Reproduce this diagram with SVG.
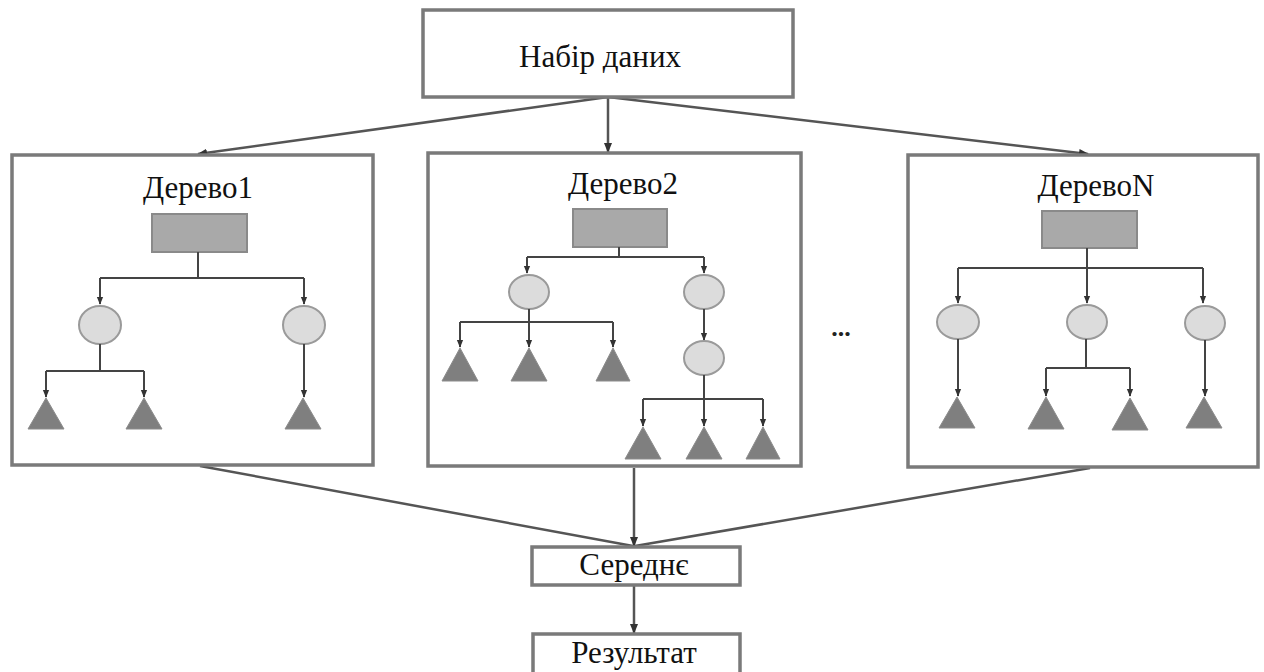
<svg xmlns="http://www.w3.org/2000/svg" width="1264" height="672" viewBox="0 0 1264 672">
  <style>
    .box { fill: #ffffff; stroke: #7a7a7a; stroke-width: 3.5; }
    .lbl { font-family: "Liberation Serif", "Times New Roman", serif; font-size: 31px; fill: #111; text-anchor: middle; }
    .root { fill: #a9a9a9; stroke: #8a8a8a; stroke-width: 2; }
    .inner { fill: #dcdcdc; stroke: #9a9a9a; stroke-width: 2; }
    .leaf { fill: #7f7f7f; stroke: #8c8c8c; stroke-width: 1; }
    .edge { fill: none; stroke: #555; stroke-width: 2.5; }
    .tedge { fill: none; stroke: #444; stroke-width: 2; }
  </style>
  <defs>
    <marker id="arr" viewBox="0 0 10 10" refX="9" refY="5" markerWidth="4" markerHeight="4" orient="auto">
      <path d="M0,1 L10,5 L0,9 z" fill="#333"/>
    </marker>
  </defs>

  <rect width="1264" height="672" fill="#ffffff"/>

  <!-- flow connectors between the main blocks -->
  <g id="connectors">
    <line class="edge" x1="608" y1="97" x2="198" y2="154" marker-end="url(#arr)"/>
    <line class="edge" x1="608" y1="97" x2="608" y2="152" marker-end="url(#arr)"/>
    <line class="edge" x1="608" y1="97" x2="1088" y2="154" marker-end="url(#arr)"/>
    <line class="edge" x1="200" y1="466" x2="633" y2="546"/>
    <line class="edge" x1="634" y1="468" x2="634" y2="546" marker-end="url(#arr)"/>
    <line class="edge" x1="1090" y1="468" x2="635" y2="546"/>
    <line class="edge" x1="634" y1="585" x2="634" y2="633" marker-end="url(#arr)"/>
  </g>

  <g id="dataset">
    <rect class="box" x="423" y="10" width="370" height="87"/>
    <text class="lbl" x="600" y="67">Набір даних</text>
  </g>

  <!-- tree 1 -->
  <g id="tree1">
    <rect class="box" x="12" y="155" width="361" height="310"/>
    <text class="lbl" x="198" y="198">Дерево1</text>
    <rect class="root" x="152" y="214" width="95" height="38"/>
    <path class="tedge" d="M198,252 V278 M100,278 H304"/>
    <path class="tedge" d="M100,278 V304" marker-end="url(#arr)"/>
    <path class="tedge" d="M304,278 V304" marker-end="url(#arr)"/>
    <ellipse class="inner" cx="100" cy="325" rx="21" ry="19"/>
    <ellipse class="inner" cx="304" cy="325" rx="21" ry="19"/>
    <path class="tedge" d="M100,344 V371 M46,371 H144"/>
    <path class="tedge" d="M46,371 V397" marker-end="url(#arr)"/>
    <path class="tedge" d="M144,371 V397" marker-end="url(#arr)"/>
    <path class="tedge" d="M304,344 V397" marker-end="url(#arr)"/>
    <polygon class="leaf" points="46,398 28,429 64,429"/>
    <polygon class="leaf" points="144,398 126,429 162,429"/>
    <polygon class="leaf" points="303,398 285,429 321,429"/>
  </g>

  <!-- tree 2 -->
  <g id="tree2">
    <rect class="box" x="428" y="153" width="373" height="313"/>
    <text class="lbl" x="623" y="194">Дерево2</text>
    <rect class="root" x="573" y="209" width="94" height="38"/>
    <path class="tedge" d="M619,247 V257 M527,257 H704"/>
    <path class="tedge" d="M527,257 V273" marker-end="url(#arr)"/>
    <path class="tedge" d="M704,257 V273" marker-end="url(#arr)"/>
    <ellipse class="inner" cx="529" cy="292" rx="20" ry="17"/>
    <ellipse class="inner" cx="704" cy="292" rx="20" ry="17"/>
    <path class="tedge" d="M529,309 V322 M460,322 H613"/>
    <path class="tedge" d="M460,322 V347" marker-end="url(#arr)"/>
    <path class="tedge" d="M529,322 V347" marker-end="url(#arr)"/>
    <path class="tedge" d="M613,322 V347" marker-end="url(#arr)"/>
    <polygon class="leaf" points="460,348 442,381 478,381"/>
    <polygon class="leaf" points="529,348 511,381 547,381"/>
    <polygon class="leaf" points="613,348 596,381 630,381"/>
    <path class="tedge" d="M704,309 V340" marker-end="url(#arr)"/>
    <ellipse class="inner" cx="704" cy="358" rx="20" ry="17"/>
    <path class="tedge" d="M704,375 V399 M643,399 H763"/>
    <path class="tedge" d="M643,399 V426" marker-end="url(#arr)"/>
    <path class="tedge" d="M704,399 V426" marker-end="url(#arr)"/>
    <path class="tedge" d="M763,399 V426" marker-end="url(#arr)"/>
    <polygon class="leaf" points="643,427 625,459 661,459"/>
    <polygon class="leaf" points="704,427 686,459 722,459"/>
    <polygon class="leaf" points="763,427 746,459 780,459"/>
  </g>

  <text id="ellipsis" x="841" y="336" font-family="Liberation Serif, serif" font-size="26" font-weight="bold" fill="#222" text-anchor="middle">...</text>

  <!-- tree N -->
  <g id="treeN">
    <rect class="box" x="908" y="155" width="350" height="312"/>
    <text class="lbl" x="1096" y="196">ДеревоN</text>
    <rect class="root" x="1042" y="211" width="95" height="37"/>
    <path class="tedge" d="M1087,248 V268 M958,268 H1203"/>
    <path class="tedge" d="M958,268 V303" marker-end="url(#arr)"/>
    <path class="tedge" d="M1087,268 V303" marker-end="url(#arr)"/>
    <path class="tedge" d="M1203,268 V303" marker-end="url(#arr)"/>
    <ellipse class="inner" cx="958" cy="322" rx="21" ry="17"/>
    <ellipse class="inner" cx="1087" cy="322" rx="20" ry="17"/>
    <ellipse class="inner" cx="1205" cy="323" rx="20" ry="17"/>
    <path class="tedge" d="M958,339 V396" marker-end="url(#arr)"/>
    <path class="tedge" d="M1086,339 V368 M1046,368 H1130"/>
    <path class="tedge" d="M1046,368 V396" marker-end="url(#arr)"/>
    <path class="tedge" d="M1130,368 V396" marker-end="url(#arr)"/>
    <path class="tedge" d="M1205,340 V396" marker-end="url(#arr)"/>
    <polygon class="leaf" points="957,397 939,428 975,428"/>
    <polygon class="leaf" points="1046,397 1028,429 1064,429"/>
    <polygon class="leaf" points="1130,398 1112,430 1148,430"/>
    <polygon class="leaf" points="1204,397 1186,428 1222,428"/>
  </g>

  <g id="average">
    <rect class="box" x="532" y="547" width="208" height="38"/>
    <text class="lbl" x="634" y="575">Середнє</text>
  </g>

  <g id="result">
    <rect class="box" x="533" y="634" width="207" height="42"/>
    <text class="lbl" x="634" y="663">Результат</text>
  </g>
</svg>
